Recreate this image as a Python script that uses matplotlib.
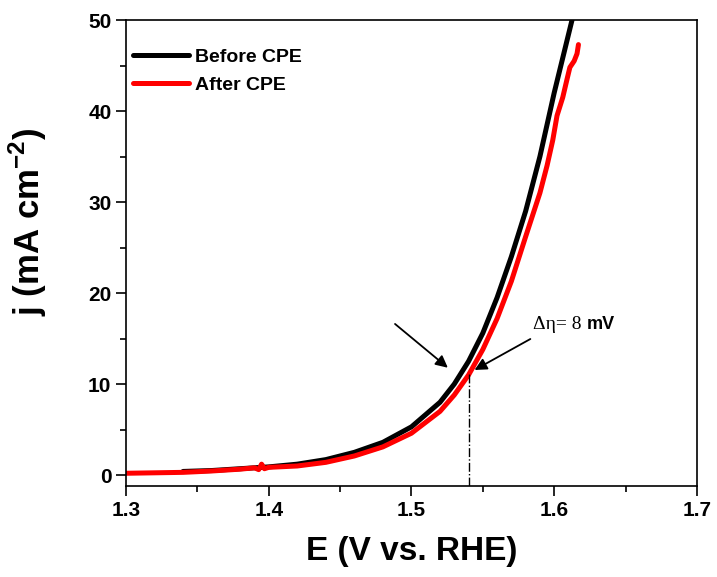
import matplotlib
matplotlib.use('Agg')
import matplotlib.pyplot as plt

plt.rcParams['font.family'] = 'Liberation Sans'
plt.rcParams['font.weight'] = 'bold'
plt.rcParams['mathtext.fontset'] = 'custom'
plt.rcParams['mathtext.rm'] = 'Liberation Sans:bold'
plt.rcParams['mathtext.bf'] = 'Liberation Sans:bold'

# LSV data
before_E = [1.34, 1.36, 1.38, 1.40, 1.42, 1.44, 1.46, 1.48, 1.50, 1.52, 1.53,
            1.54, 1.55, 1.56, 1.57, 1.58, 1.59, 1.60, 1.6125]
before_j = [0.4, 0.5, 0.7, 0.9, 1.2, 1.7, 2.5, 3.6, 5.3, 8.0, 10.0,
            12.5, 15.6, 19.5, 24.0, 29.0, 35.0, 42.0, 50.0]

after_E = [1.30, 1.32, 1.34, 1.36, 1.38, 1.39, 1.393, 1.395, 1.397, 1.40, 1.42,
           1.44, 1.46, 1.48, 1.50, 1.52, 1.53, 1.54, 1.55, 1.56, 1.57, 1.58,
           1.59, 1.595, 1.599, 1.602, 1.604, 1.606, 1.609, 1.611, 1.614, 1.616, 1.617]
after_j = [0.2, 0.25, 0.3, 0.45, 0.65, 0.8, 0.6, 1.2, 0.7, 0.85, 1.0,
           1.4, 2.1, 3.1, 4.6, 7.0, 8.8, 11.0, 13.8, 17.2, 21.3, 26.2,
           31.0, 34.0, 36.8, 39.5, 40.5, 41.5, 43.5, 44.8, 45.5, 46.3, 47.3]

eta_E = 1.54
eta_j = 11.3

fig = plt.figure(figsize=(7.17, 5.77), dpi=100)
ax = fig.add_axes([0.1757, 0.1577, 0.7963, 0.8076])

ax.plot(before_E, before_j, color='black', lw=3.6, label='Before CPE', solid_capstyle='round')
ax.plot(after_E, after_j, color='#ff0000', lw=3.6, label='After CPE', solid_capstyle='round')

ax.plot([eta_E, eta_E], [-1.2, eta_j], color='black', lw=1.0, linestyle='-.')

ax.annotate('', xy=(1.527, 11.6), xytext=(1.487, 16.8),
            arrowprops=dict(arrowstyle='-|>', mutation_scale=18, lw=1.3, color='black'))
ax.annotate('', xy=(1.5425, 11.4), xytext=(1.585, 15.1),
            arrowprops=dict(arrowstyle='-|>', mutation_scale=18, lw=1.3, color='black'))

t1 = ax.text(1.585, 16.5, '\u0394\u03b7= 8', family='Liberation Serif', fontweight='normal',
             fontsize=14, va='center', ha='left')
ax.annotate('mV', xy=(1, 0), xycoords=t1, xytext=(4, 0), textcoords='offset points',
            fontsize=13, fontweight='bold', va='bottom', ha='left')

ax.set_xlim(1.3, 1.7)
ax.set_ylim(-1.2, 50)
ax.set_xticks([1.3, 1.4, 1.5, 1.6, 1.7])
ax.set_xticks([1.35, 1.45, 1.55, 1.65], minor=True)
ax.set_yticks([0, 10, 20, 30, 40, 50])
ax.set_yticks([5, 15, 25, 35, 45], minor=True)
ax.tick_params(axis='both', which='major', direction='out', length=7, width=1.2,
               labelsize=15, top=False, right=False)
ax.tick_params(axis='both', which='minor', direction='out', length=4, width=1.2,
               top=False, right=False)
for lab in ax.get_xticklabels() + ax.get_yticklabels():
    lab.set_fontweight('bold')
for s in ax.spines.values():
    s.set_linewidth(1.2)

ax.set_xlabel('E (V vs. RHE)', fontsize=24, fontweight='bold', labelpad=12)
ax.set_ylabel(r'j (mA cm$^{-2}$)', fontsize=25, fontweight='bold')
ax.yaxis.set_label_coords(-0.135, 0.567)

ax.legend(loc='upper left', frameon=False, fontsize=14, handlelength=2.9,
          handletextpad=0.3, labelspacing=0.55, borderaxespad=0.3,
          bbox_to_anchor=(-0.012, 0.969))

fig.savefig('out.png', dpi=100)
